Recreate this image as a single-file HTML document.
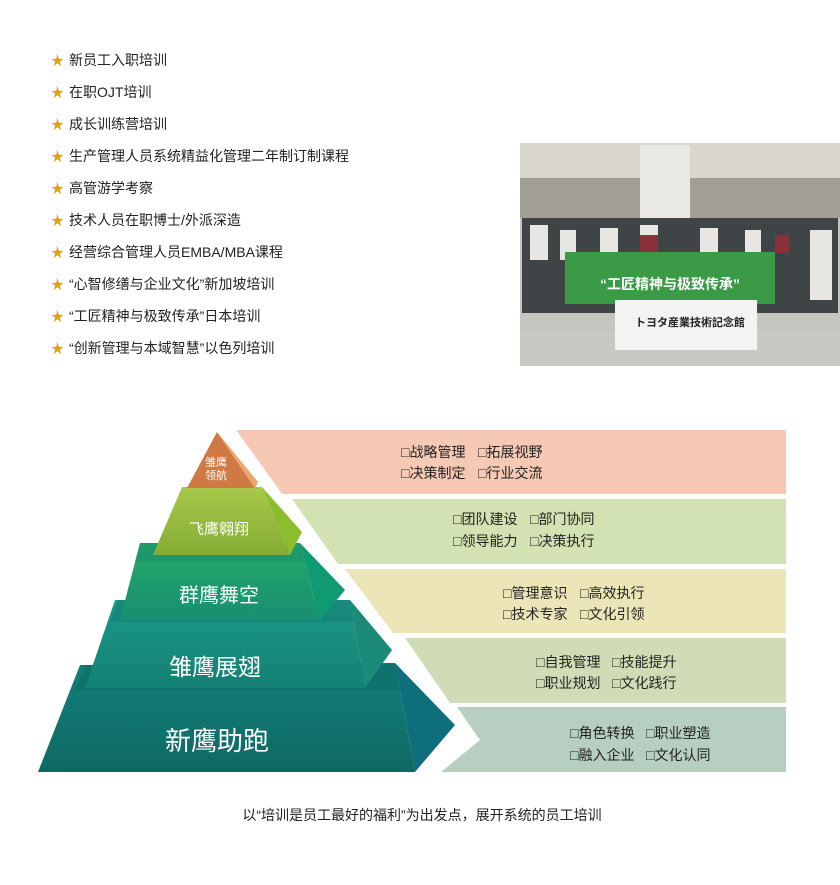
<!DOCTYPE html>
<html><head><meta charset="utf-8"><style>
html,body{margin:0;padding:0;background:#fff;width:840px;height:885px;overflow:hidden}
svg text{font-family:"Liberation Sans","Noto Sans CJK SC",sans-serif}
</style></head><body>
<svg width="840" height="885" viewBox="0 0 840 885" xmlns="http://www.w3.org/2000/svg">
<defs>
<linearGradient id="ph" x1="0" y1="0" x2="0" y2="1"><stop offset="0" stop-color="#c9c6bd"/><stop offset="0.45" stop-color="#a9a69c"/><stop offset="0.6" stop-color="#7f8a7c"/><stop offset="1" stop-color="#c7c7c1"/></linearGradient>
<linearGradient id="g5" x1="0" y1="0" x2="0" y2="1"><stop offset="0" stop-color="#137f7b"/><stop offset="1" stop-color="#0f6963"/></linearGradient>
<linearGradient id="g4" x1="0" y1="0" x2="0" y2="1"><stop offset="0" stop-color="#1c9a88"/><stop offset="1" stop-color="#138073"/></linearGradient>
<linearGradient id="g3" x1="0" y1="0" x2="0" y2="1"><stop offset="0" stop-color="#25a96a"/><stop offset="1" stop-color="#188f72"/></linearGradient>
<linearGradient id="g2" x1="0" y1="0" x2="0" y2="1"><stop offset="0" stop-color="#a8c84a"/><stop offset="1" stop-color="#84ac33"/></linearGradient>
</defs>
<g font-size="14" fill="#222">
<g fill="#e0a010" font-size="13">
<text x="51" y="65">★</text><text x="51" y="97">★</text><text x="51" y="129">★</text><text x="51" y="161">★</text><text x="51" y="193">★</text><text x="51" y="225">★</text><text x="51" y="257">★</text><text x="51" y="289">★</text><text x="51" y="321">★</text><text x="51" y="353">★</text>
</g>
<text x="69" y="65">新员工入职培训</text>
<text x="69" y="97">在职OJT培训</text>
<text x="69" y="129">成长训练营培训</text>
<text x="69" y="161">生产管理人员系统精益化管理二年制订制课程</text>
<text x="69" y="193">高管游学考察</text>
<text x="69" y="225">技术人员在职博士/外派深造</text>
<text x="69" y="257">经营综合管理人员EMBA/MBA课程</text>
<text x="69" y="289">“心智修缮与企业文化”新加坡培训</text>
<text x="69" y="321">“工匠精神与极致传承”日本培训</text>
<text x="69" y="353">“创新管理与本域智慧”以色列培训</text>
</g>
<!-- photo -->
<rect x="520" y="143" width="320" height="223" rx="3" fill="#c6c5bf"/>
<rect x="520" y="143" width="320" height="50" fill="#d8d6cf"/>
<rect x="520" y="178" width="320" height="40" fill="#a29e94"/>
<rect x="640" y="145" width="50" height="75" fill="#e9e8e2"/>
<rect x="522" y="218" width="316" height="95" fill="#3f4446"/>
<g fill="#e8e6e2">
<rect x="530" y="225" width="18" height="35"/><rect x="560" y="230" width="16" height="30"/><rect x="600" y="228" width="18" height="30"/><rect x="640" y="225" width="18" height="30"/><rect x="700" y="228" width="18" height="28"/><rect x="745" y="230" width="16" height="28"/><rect x="810" y="230" width="22" height="70"/>
</g>
<g fill="#8a3038"><rect x="640" y="235" width="18" height="20"/><rect x="775" y="235" width="14" height="18"/></g>
<rect x="565" y="252" width="210" height="52" fill="#3b9a45"/>
<text x="670" y="289" font-size="14" fill="#fff" text-anchor="middle" font-weight="bold">“工匠精神与极致传承”</text>
<rect x="520" y="330" width="320" height="36" fill="#c9c8c3"/>
<rect x="615" y="300" width="142" height="50" fill="#f3f3f1"/>
<text x="690" y="326" font-size="11" fill="#222" text-anchor="middle" font-weight="bold">トヨタ産業技術記念館</text>
<!-- bands -->
<polygon points="236,430 786,430 786,494 282,494" fill="#f6c9b5"/>
<polygon points="292,499 786,499 786,564 338,564" fill="#d3e2b2"/>
<polygon points="345,569 786,569 786,633 393,633" fill="#ece5b7"/>
<polygon points="405,638 786,638 786,703 450,703" fill="#cfdcb6"/>
<polygon points="457,707 786,707 786,772 441,772 480,740" fill="#b7cfc0"/>
<g font-size="14" fill="#222">
<text x="401" y="457">□战略管理</text><text x="478" y="457">□拓展视野</text>
<text x="401" y="478">□决策制定</text><text x="478" y="478">□行业交流</text>
<text x="453" y="524">□团队建设</text><text x="530" y="524">□部门协同</text>
<text x="453" y="546">□领导能力</text><text x="530" y="546">□决策执行</text>
<text x="503" y="598">□管理意识</text><text x="580" y="598">□高效执行</text>
<text x="503" y="619">□技术专家</text><text x="580" y="619">□文化引领</text>
<text x="536" y="667">□自我管理</text><text x="612" y="667">□技能提升</text>
<text x="536" y="688">□职业规划</text><text x="612" y="688">□文化践行</text>
<text x="570" y="738">□角色转换</text><text x="646" y="738">□职业塑造</text>
<text x="570" y="760">□融入企业</text><text x="646" y="760">□文化认同</text>
</g>
<!-- pyramid -->
<polygon points="80,665 395,663 415,772 38,772" fill="url(#g5)"/>
<polygon points="85,665 395,663 400,690 75,690" fill="#0d6a66" opacity="0.6"/>
<polygon points="395,663 455,725 415,772" fill="#0e6e7c"/>
<polygon points="115,600 350,600 365,688 85,688" fill="url(#g4)"/>
<polygon points="118,600 350,600 355,622 110,622" fill="#137a70" opacity="0.5"/>
<polygon points="350,600 392,650 365,688" fill="#1b8a78"/>
<polygon points="140,543 300,543 320,620 120,620" fill="url(#g3)"/>
<polygon points="140,543 300,543 305,562 135,562" fill="#1a8c6a" opacity="0.5"/>
<polygon points="300,543 345,590 320,620" fill="#109a72"/>
<polygon points="182,487 262,487 290,555 153,555" fill="url(#g2)"/>
<polygon points="262,487 302,532 290,555" fill="#8cbd2c"/>
<polygon points="217,432 255,488 187,488" fill="#cf7a45"/>
<polygon points="217,432 258,482 255,488" fill="#eea66b"/>
<g fill="#fff" text-anchor="middle">
<text x="216" y="466" font-size="11">雏鹰</text>
<text x="216" y="479" font-size="11">领航</text>
<text x="219" y="534" font-size="15">飞鹰翱翔</text>
<text x="219" y="602" font-size="20">群鹰舞空</text>
<text x="215" y="675" font-size="23">雏鹰展翅</text>
<text x="217" y="750" font-size="26">新鹰助跑</text>
</g>
<text x="422" y="820" font-size="14" fill="#222" text-anchor="middle">以“培训是员工最好的福利”为出发点，展开系统的员工培训</text>
</svg>
</body></html>
